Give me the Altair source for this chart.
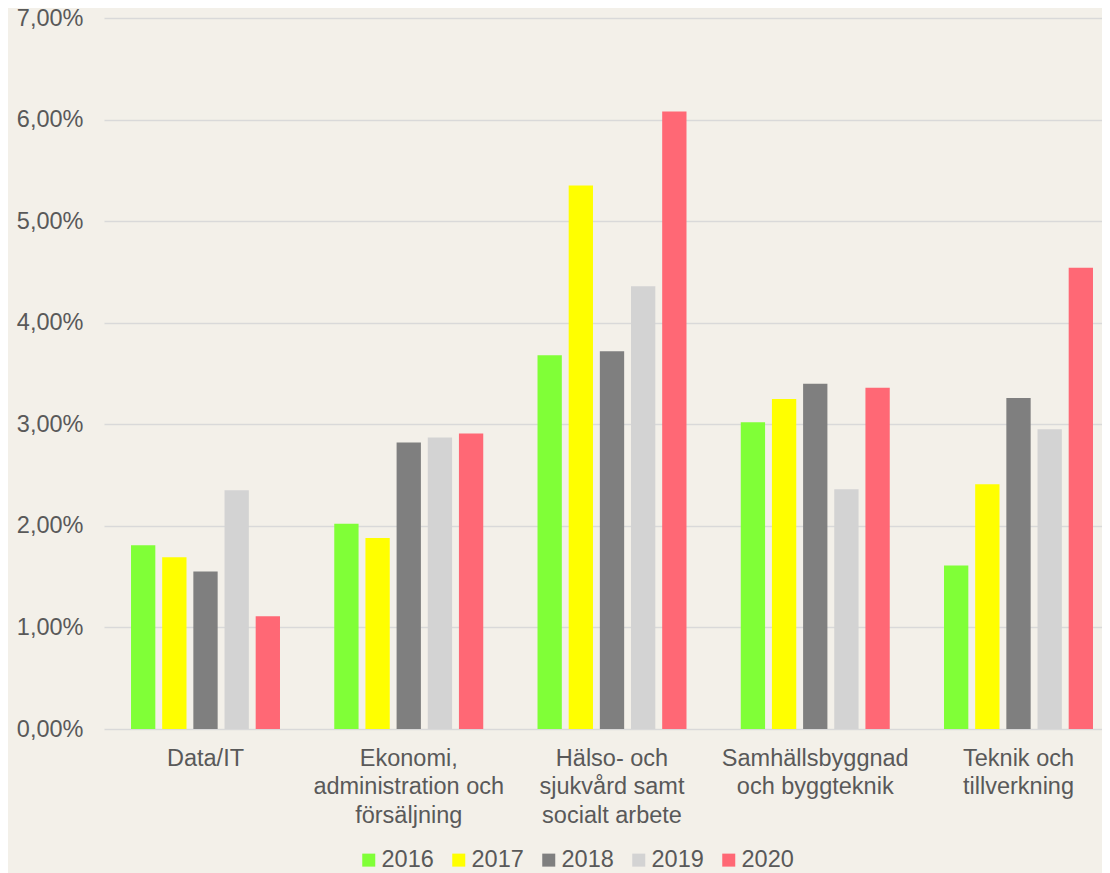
import altair as alt
import pandas as pd

categories = ["Data/IT", "Ekonomi,|administration och|försäljning",
              "Hälso- och|sjukvård samt|socialt arbete",
              "Samhällsbyggnad|och byggteknik", "Teknik och|tillverkning"]
years = ["2016", "2017", "2018", "2019", "2020"]
values = {
    "2016": [0.0181, 0.0202, 0.0368, 0.0302, 0.0161],
    "2017": [0.0169, 0.0188, 0.0535, 0.0325, 0.0241],
    "2018": [0.0155, 0.0282, 0.0372, 0.0340, 0.0326],
    "2019": [0.0235, 0.0287, 0.0436, 0.0236, 0.0295],
    "2020": [0.0111, 0.0291, 0.0608, 0.0336, 0.0454],
}
colors = ["#80FF37", "#FFFF00", "#7F7F7F", "#D3D3D3", "#FF6875"]

rows = []
for y in years:
    for c, v in zip(categories, values[y]):
        rows.append({"Kategori": c, "År": y, "Andel": v})
df = pd.DataFrame(rows)

font = "Liberation Sans"
chart = alt.Chart(df).mark_bar().encode(
    x=alt.X("Kategori:N", sort=categories, title=None,
            scale=alt.Scale(paddingInner=0.267, paddingOuter=0.0886, align=0.75),
            axis=alt.Axis(labelAngle=0, labelExpr="split(datum.label, '|')",
                          labelLineHeight=28.5, labelFontSize=23.5, labelColor="#595959",
                          labelFont=font, ticks=False, domain=False, labelPadding=17,
                          labelLimit=400)),
    xOffset=alt.XOffset("År:N", sort=years, scale=alt.Scale(paddingInner=0.22, paddingOuter=0)),
    y=alt.Y("Andel:Q", title=None,
            scale=alt.Scale(domain=[0, 0.07], nice=False),
            axis=alt.Axis(values=[0, 0.01, 0.02, 0.03, 0.04, 0.05, 0.06, 0.07],
                          labelExpr="replace(format(datum.value, '.2%'), '.', ',')",
                          labelFontSize=23.5, labelColor="#595959", labelFont=font,
                          ticks=False, domain=False, labelPadding=21,
                          gridColor="#D9D9D9", gridWidth=1.5)),
    color=alt.Color("År:N", sort=years,
                    scale=alt.Scale(domain=years, range=colors),
                    legend=alt.Legend(orient="none", legendX=253, legendY=830,
                                      direction="horizontal", title=None,
                                      symbolType="square", symbolSize=169,
                                      symbolStrokeWidth=0, labelFontSize=23.5,
                                      labelColor="#595959", labelFont=font,
                                      columnPadding=13, labelOffset=1)),
).properties(
    width=998, height=711, background="#F3F0E9",
    autosize=alt.AutoSizeParams(type="none"),
    padding={"left": 96, "top": 10, "right": 0, "bottom": 145}
).configure_view(stroke=None)

chart.save("out.html", embed_options={"renderer": "svg", "actions": False})
